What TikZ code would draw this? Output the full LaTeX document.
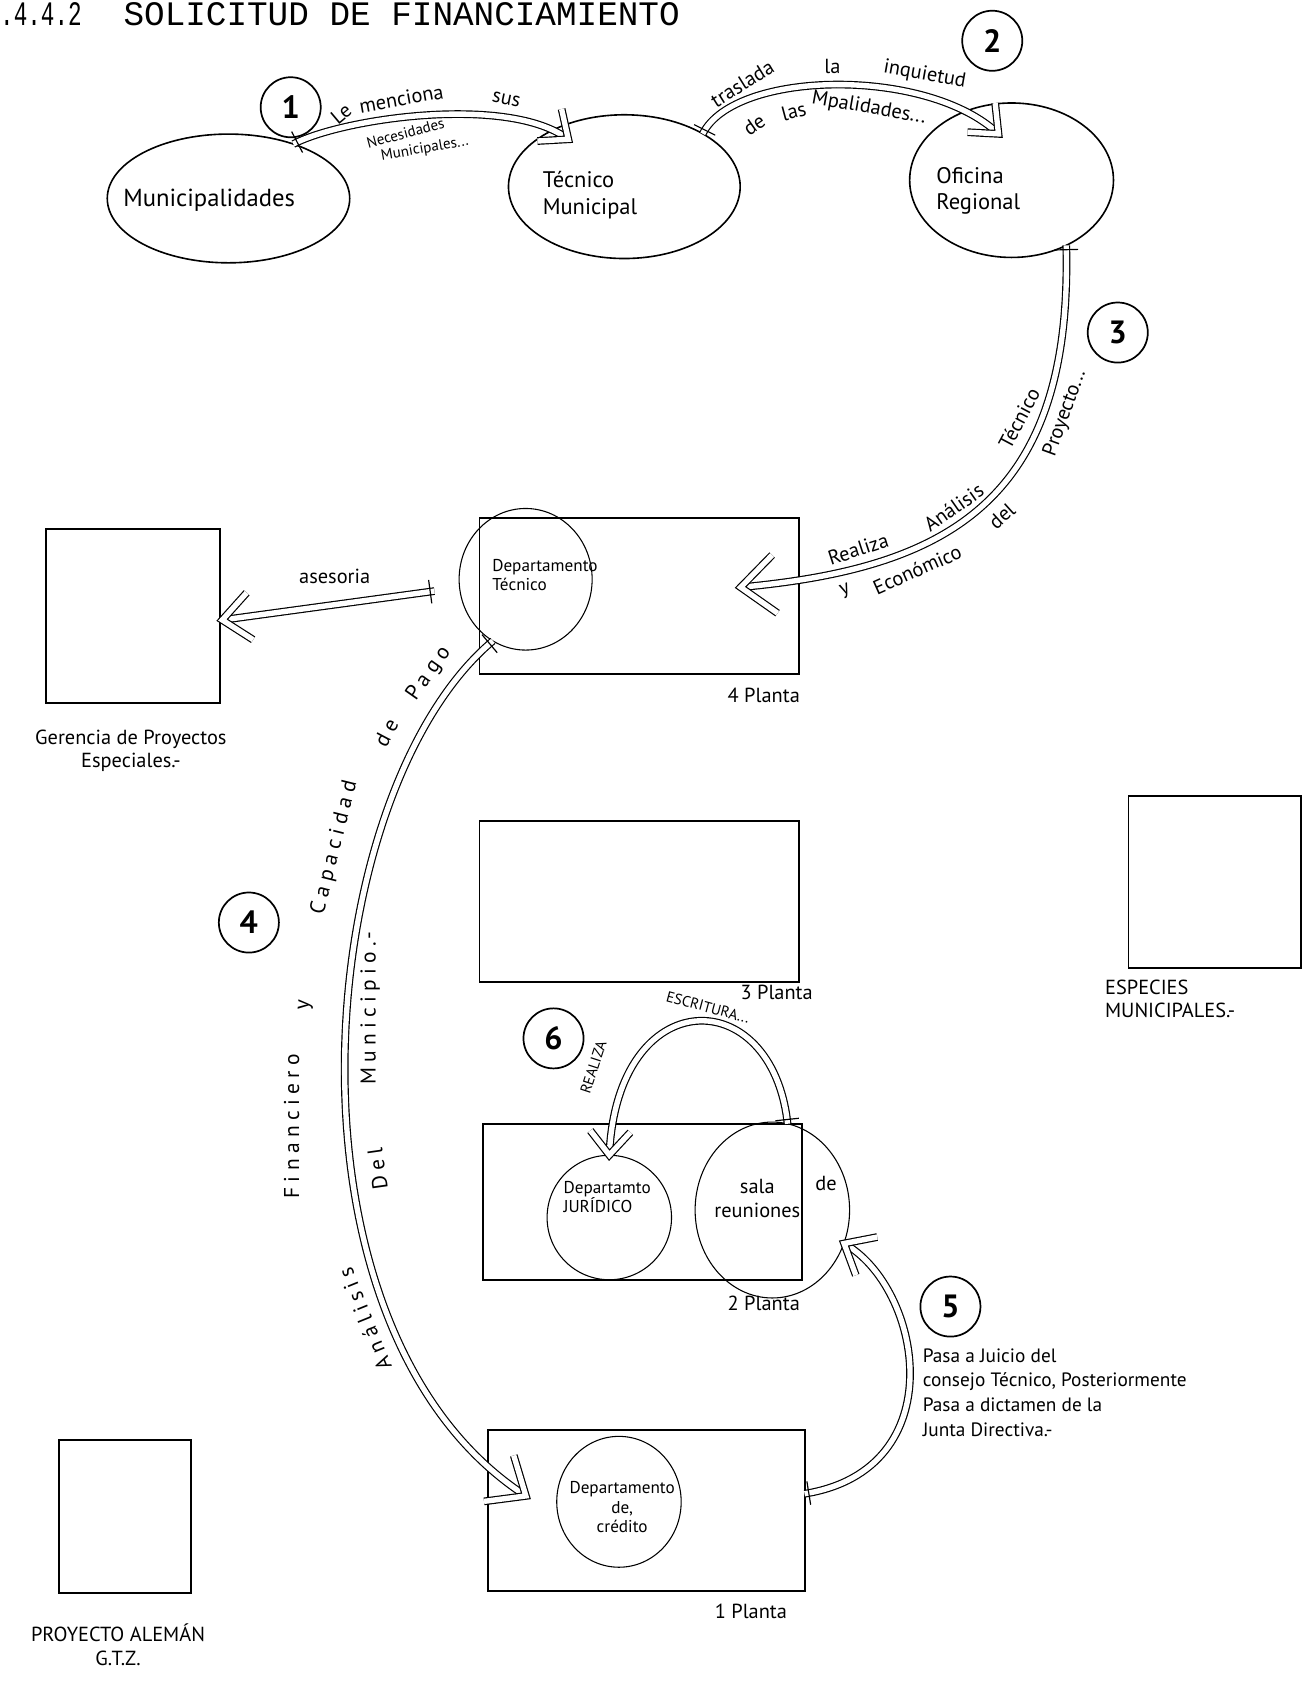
\documentclass[tikz,border=0pt]{standalone}
\usepackage{fontspec}
\newfontfamily\handfont{PT Sans}
\newfontfamily\typefont{Liberation Mono}
\usetikzlibrary{shapes.geometric,calc,decorations.markings}
\tikzset{
  dbl/.style={draw=black, line width=1.1pt, double=white, double distance=5pt},
  flow/.style={preaction={dbl}, postaction={decorate}, decoration={markings,
     mark=at position 0 with {\draw[line width=1.1pt] (4,-11) -- (4,11);},
     mark=at position 0.999 with {\draw[dbl, line join=miter] (-#1,0.85*#1) -- (0,0) -- (-#1,-0.85*#1);}}},
  flow/.default=22,
  ell/.style={ellipse, draw, line width=1.5pt, inner sep=0pt, outer sep=0pt},
  thinell/.style={ellipse, draw, line width=1pt, inner sep=0pt, outer sep=0pt},
  box/.style={rectangle, draw, line width=1.8pt, inner sep=0pt, outer sep=0pt},
  numc/.style={circle, draw, line width=1.6pt, minimum size=56pt, inner sep=0pt,
     font=\handfont\bfseries\fontsize{30}{30}\selectfont},
  lab/.style={inner sep=0pt, font=\handfont\fontsize{19}{22}\selectfont},
  slab/.style={inner sep=0pt, font=\handfont\fontsize{16}{18}\selectfont},
  tlab/.style={inner sep=0pt, font=\handfont\fontsize{14}{16}\selectfont},
  wlab/.style={inner sep=0pt, font=\handfont\fontsize{20}{22}\selectfont\addfontfeature{LetterSpace=25}},
}
\begin{document}
\begin{tikzpicture}[x=1pt,y=-1pt]
\useasboundingbox (0,0) rectangle (1221,1568);
% title
\node[anchor=west, inner sep=0pt, font=\typefont\fontsize{32}{32}\selectfont] (num) at (0,13) {\scalebox{0.66}[1]{.4.4.2}};
\node[anchor=west, inner sep=0pt, font=\typefont\fontsize{32}{32}\selectfont] (title) at (115,13) {SOLICITUD DE FINANCIAMIENTO};

% numbered circles
\node[numc] (c1) at (271,100) {1};
\node[numc] (c2) at (925,38) {2};
\node[numc] (c3) at (1042,310) {3};
\node[numc] (c4) at (232,860) {4};
\node[numc] (c5) at (886,1218) {5};
\node[numc] (c6) at (516,968) {6};

% top ellipses
\node[ell, minimum width=226pt, minimum height=120pt] (muni) at (213,185) {};
\node[lab, font=\handfont\fontsize{23}{25}\selectfont] (munit) at (195,187) {Municipalidades};
\node[ell, minimum width=216pt, minimum height=134pt] (tec) at (582,174) {};
\node[lab, align=left, font=\handfont\fontsize{21}{25}\selectfont] (tect) at (550,182) {Técnico\\Municipal};
\node[ell, minimum width=190pt, minimum height=144pt] (ofi) at (943,168) {};
\node[lab, align=left, font=\handfont\fontsize{21}{25}\selectfont] (ofit) at (912,178) {Oficina\\Regional};

% boxes
\node[box, minimum width=298pt, minimum height=145pt] (p4) at (596,555.5) {};
\node[box, minimum width=162pt, minimum height=162pt] (ger) at (124,574) {};
\node[box, minimum width=298pt, minimum height=150pt] (p3) at (596,840) {};
\node[box, minimum width=161pt, minimum height=160pt] (esp) at (1132.5,822) {};
\node[box, minimum width=298pt, minimum height=145pt] (p2) at (599,1120.5) {};
\node[box, minimum width=295pt, minimum height=150pt] (p1) at (602.5,1408) {};
\node[box, minimum width=123pt, minimum height=143pt] (ale) at (116.5,1413.5) {};

% inner circles
\node[thinell, minimum width=124pt, minimum height=132pt] (dtec) at (490,540) {};
\node[slab, align=left] (dtect) at (508,536) {Departamento\\Técnico};
\node[thinell, minimum width=116pt, minimum height=116pt] (dju) at (568,1135) {};
\node[slab, align=left] (djut) at (566,1116) {Departamto\\JURÍDICO};
\node[thinell, minimum width=144pt, minimum height=164pt] (sala) at (720,1128) {};
\node[lab, align=center] (salat) at (706,1117) {sala\\reuniones};
\node[lab] (salade) at (770,1103) {de};
\node[thinell, minimum width=116pt, minimum height=122pt] (dcr) at (577,1400) {};
\node[slab, align=center] (dcrt) at (580,1405) {Departamento\\de,\\crédito};

% floor labels
\node[lab] (l4) at (712,648) {4 Planta};
\node[lab] (l3) at (724,925) {3 Planta};
\node[lab] (l2) at (712,1215) {2 Planta};
\node[lab] (l1) at (700,1502) {1 Planta};
\node[lab, align=center] (gert) at (122,700) {Gerencia de Proyectos\\Especiales.-};
\node[lab, align=left, anchor=north west] (espt) at (1030,913) {ESPECIES\\MUNICIPALES.-};
\node[lab, align=center] (alet) at (110,1533) {PROYECTO ALEMÁN\\G.T.Z.};
\node[lab, align=left, anchor=north west, font=\handfont\fontsize{18}{23}\selectfont] (t5) at (860,1257)
  {Pasa a Juicio del\\consejo Técnico, Posteriormente\\Pasa a dictamen de la\\Junta Directiva.-};

% connector end points
\coordinate (tecIn) at ($(tec.center)+(-52,-44)$);
\coordinate (ofiIn) at ($(ofi.center)+(-12,-43)$);
\coordinate (p4In) at ($(p4.east)+(-55,-8)$);
\coordinate (aseT) at ($(dtec.west)+(-23,11)$);
\coordinate (gerIn) at ($(ger.east)+(2,4)$);
\coordinate (p1In) at ($(dcr.west)+(-28,-5)$);

% connectors
\path[flow] (muni.40) .. controls (320,110) and (475,88) .. (tecIn);
\path[flow] (tec.34) .. controls (685,65) and (865,62) .. (ofiIn);
\path[flow=32] (ofi.-50) .. controls (1000,470) and (880,530) .. (p4In);
\path[flow=26] (aseT) -- (gerIn);
\path[flow=30] (dtec.-118) .. controls (290,740) and (250,1240) .. (p1In);
\path[flow=24] (p1.6) .. controls (890,1370) and (860,1200) .. (sala.-25);
\path[flow=22] (sala.80) .. controls (720,915) and (575,915) .. (dju.north);

% arrow 1 labels
\node[lab, rotate=40] (a1a) at (318,106) {Le};
\node[lab, rotate=10] (a1b) at (374,92) {menciona};
\node[lab, rotate=-12] (a1c) at (472,93) {sus};
\node[tlab, rotate=15] (a1d) at (378,124) {Necesidades};
\node[tlab, rotate=10] (a1e) at (396,139) {Municipales...};
% arrow 2 labels
\node[lab, rotate=32] (a2a) at (692,78) {traslada};
\node[lab] (a2b) at (776,62) {la};
\node[lab, rotate=-10] (a2c) at (862,70) {inquietud};
\node[lab, rotate=35] (a2d) at (703,116) {de};
\node[lab, rotate=15] (a2e) at (740,104) {las};
\node[lab, rotate=-10] (a2f) at (810,101) {Mpalidades...};
% arrow 3 labels
\node[lab, rotate=18] (a3a) at (800,512) {Realiza};
\node[lab, rotate=35] (a3b) at (889,473) {Análisis};
\node[lab, rotate=62] (a3c) at (950,390) {Técnico};
\node[lab, rotate=20] (a3d) at (788,551) {y};
\node[lab, rotate=24] (a3e) at (855,531) {Económico};
\node[lab, rotate=42] (a3f) at (934,481) {del};
\node[lab, rotate=70] (a3g) at (993,385) {Proyecto...};
% asesoria
\node[lab] (ase) at (312,537) {asesoria};
% arrow 4 labels
\node[wlab, rotate=55] (a4a) at (400,628) {Pago};
\node[wlab, rotate=62] (a4b) at (360,683) {de};
\node[wlab, rotate=76] (a4c) at (312,790) {Capacidad};
\node[wlab, rotate=85] (a4d) at (285,937) {y};
\node[wlab, rotate=90] (a4e) at (272,1050) {Financiero};
\node[wlab, rotate=112] (a4f) at (340,1230) {Análisis};
\node[wlab, rotate=90] (a4g) at (345,940) {Municipio.-};
\node[wlab, rotate=98] (a4h) at (352,1090) {Del};
% arrow 6 labels
\node[tlab, rotate=72] (a6a) at (553,995) {REALIZA};
\node[tlab, rotate=-15] (a6b) at (660,939) {ESCRITURA...};
\end{tikzpicture}
\end{document}
